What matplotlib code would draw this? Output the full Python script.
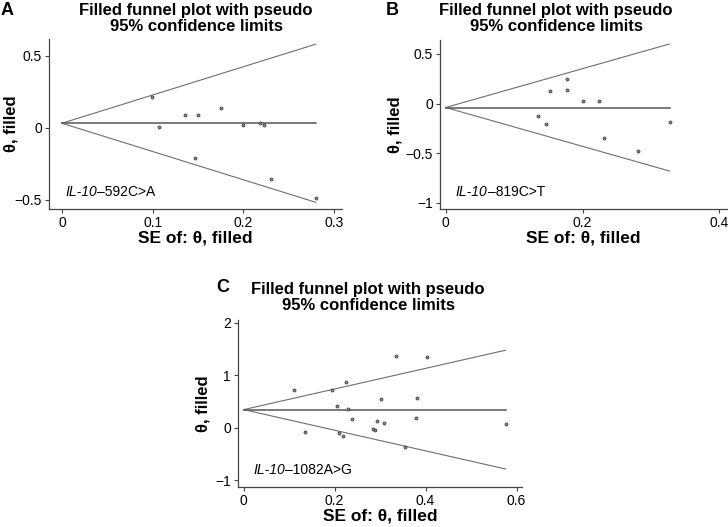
import matplotlib
matplotlib.use('Agg')
import matplotlib.pyplot as plt

plt.rcParams['font.family'] = ['Liberation Sans', 'DejaVu Sans']

# panel A: IL-10 -592C>A
se_a = [0.099, 0.107, 0.136, 0.150, 0.176, 0.147, 0.200, 0.218, 0.223, 0.231, 0.280]
th_a = [0.215, 0.009, 0.090, 0.090, 0.139, -0.208, 0.021, 0.032, 0.021, -0.356, -0.484]
funnel_x_a = [0.0, 0.280]
center_a = [0.033, 0.033]
upper_a = [0.033, 0.582]
lower_a = [0.033, -0.516]

# panel B: IL-10 -819C>T
se_b = [0.135, 0.147, 0.153, 0.177, 0.177, 0.201, 0.224, 0.231, 0.281, 0.328]
th_b = [-0.128, -0.208, 0.124, 0.252, 0.141, 0.027, 0.027, -0.349, -0.477, -0.188]
funnel_x_b = [0.0, 0.327]
center_b = [-0.040, -0.040]
upper_b = [-0.040, 0.601]
lower_b = [-0.040, -0.681]

# panel C: IL-10 -1082A>G
se_c = [0.111, 0.135, 0.194, 0.226, 0.205, 0.209, 0.219, 0.230, 0.239, 0.284,
        0.289, 0.293, 0.303, 0.309, 0.335, 0.355, 0.380, 0.382, 0.404, 0.576]
th_c = [0.726, -0.082, 0.726, 0.872, 0.417, -0.101, -0.164, 0.366, 0.171, -0.025,
        -0.044, 0.133, 0.550, 0.088, 1.371, -0.360, 0.190, 0.569, 1.339, 0.076]
funnel_x_c = [0.0, 0.576]
center_c = [0.347, 0.347]
upper_c = [0.347, 1.476]
lower_c = [0.347, -0.782]

title = 'Filled funnel plot with pseudo\n95% confidence limits'

W, H = 728, 527
fig = plt.figure(figsize=(W / 100, H / 100), dpi=100)


def funnel(box, se, th, fx, cen, up, lo, xlim, ylim, xticks, yticks, ylabels,
           gene, rest, letter, letter_px, title_px, ylab_px):
    # box in pixels: left, top, right, bottom
    l, t, r, b = box
    ax = fig.add_axes([l / W, 1 - b / H, (r - l) / W, (b - t) / H])
    ax.plot(fx, up, color='#6e6e6e', lw=0.8)
    ax.plot(fx, lo, color='#6e6e6e', lw=0.8)
    ax.plot(fx, cen, color='#555555', lw=1.1)
    ax.plot(se, th, 'o', ms=2.2, mfc='#8a8a8a', mec='#333333', mew=0.5, ls='none')
    ax.set_xlim(*xlim)
    ax.set_ylim(*ylim)
    ax.set_xticks(xticks)
    ax.set_xticklabels([('%g' % v) for v in xticks])
    ax.set_yticks(yticks)
    ax.set_yticklabels(ylabels)
    for s in ['top', 'right']:
        ax.spines[s].set_visible(False)
    for s in ['left', 'bottom']:
        ax.spines[s].set_color('#444444')
        ax.spines[s].set_linewidth(0.9)
    ax.tick_params(length=3, width=0.8, color='#444444', labelsize=10, pad=2)
    ax.set_xlabel('SE of: θ, filled', fontsize=12.5, fontweight='bold', labelpad=0.5)
    ax.set_ylabel('θ, filled', fontsize=12, fontweight='bold')
    ax.yaxis.set_label_coords((ylab_px - l) / (r - l), 0.5)
    fig.text(title_px[0] / W, 1 - title_px[1] / H, title, fontsize=12, fontweight='bold',
             ha='center', va='top', linespacing=1.1, multialignment='center')
    t1 = ax.text(0.055, 0.078, gene, transform=ax.transAxes, fontsize=10,
                 style='italic', va='baseline')
    ax.annotate(rest, xy=(1, 0), xycoords=t1, fontsize=10, va='bottom')
    fig.text(letter_px[0] / W, 1 - letter_px[1] / H, letter, fontsize=13,
             fontweight='bold', va='top', ha='left')
    return ax


funnel((49, 39, 342, 209), se_a, th_a, funnel_x_a, center_a, upper_a, lower_a,
       (-0.0143, 0.309), (-0.5625, 0.618), [0, 0.1, 0.2, 0.3], [-0.5, 0, 0.5],
       ['\u22120.5', '0', '0.5'], 'IL-10', '\u2013592C>A', 'A', (1, 2), (196, 3), 19)

funnel((440, 40, 727, 209), se_b, th_b, funnel_x_b, center_b, upper_b, lower_b,
       (-0.0083, 0.411), (-1.064, 0.641), [0, 0.2, 0.4], [-1, -0.5, 0, 0.5],
       ['\u22121', '\u22120.5', '0', '0.5'], 'IL-10', '\u2013819C>T', 'B', (386, 2),
       (556, 3), 402)

funnel((238, 320, 522, 487), se_c, th_c, funnel_x_c, center_c, upper_c, lower_c,
       (-0.0125, 0.612), (-1.124, 2.05), [0, 0.2, 0.4, 0.6], [-1, 0, 1, 2],
       ['\u22121', '0', '1', '2'], 'IL-10', '\u20131082A>G', 'C', (216, 279),
       (368, 282), 210)

fig.savefig('out.png', dpi=100)
